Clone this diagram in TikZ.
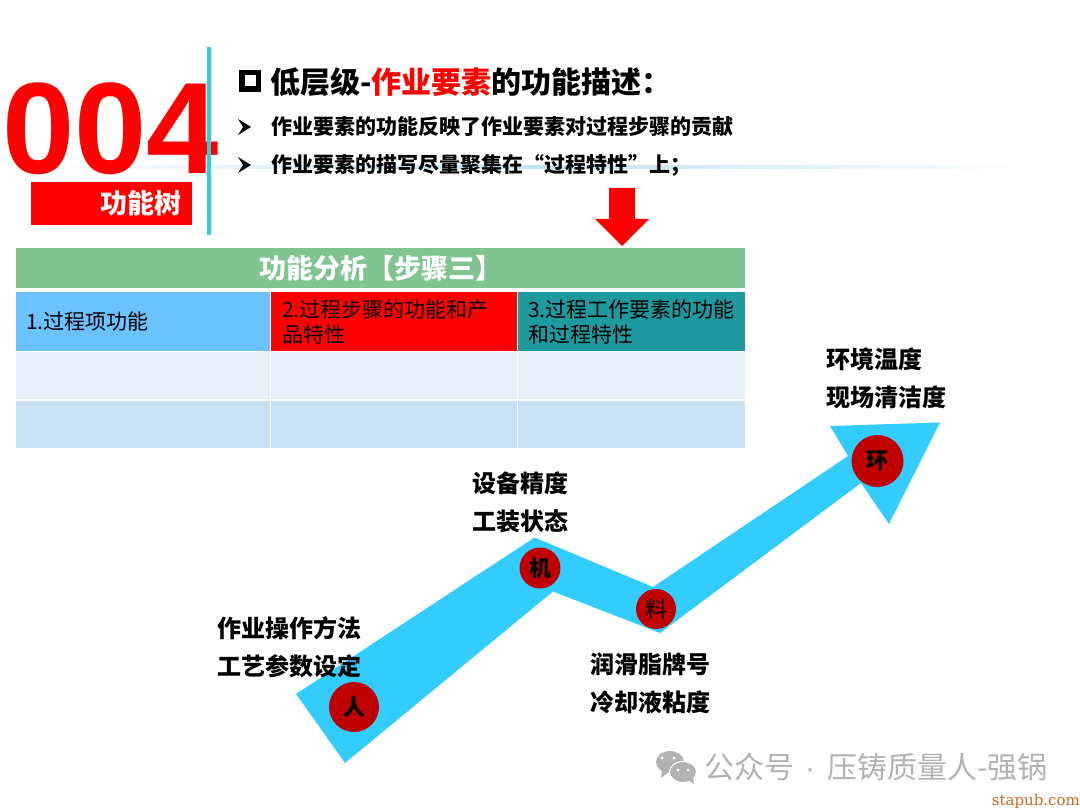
\documentclass[tikz,border=0pt]{standalone}
\usepackage{fontspec}
\setmainfont{Noto Sans CJK SC}
\newfontfamily\digitfont{Liberation Sans}
\newfontfamily\siteFont{DejaVu Serif}
\newcommand{\fsz}[2]{\fontsize{#1}{#2}\selectfont}
\definecolor{headgreen}{HTML}{7FC491}
\definecolor{cellblue}{HTML}{6AC2FF}
\definecolor{cellteal}{HTML}{1E9A9E}
\definecolor{rowa}{HTML}{E6F0FA}
\definecolor{rowb}{HTML}{CAE1F5}
\definecolor{pureRed}{HTML}{FF0000}
\definecolor{barcyan}{HTML}{2CCFDC}
\definecolor{flow}{HTML}{33CCFF}
\definecolor{dot}{HTML}{C00000}
\definecolor{fadeline}{HTML}{BFE3F2}
\definecolor{wm}{HTML}{B2B2B2}
\definecolor{siteorange}{HTML}{C8691E}
\tikzset{
  cell/.style={anchor=north west,inner ysep=0pt,outer sep=0pt,align=left,font=\fsz{21}{25}},
  lab/.style={anchor=west,inner sep=0pt,align=left,font=\fsz{24}{38}\bfseries},
  bul/.style={anchor=base west,inner sep=0pt,font=\fsz{21}{26}\bfseries},
  tickmark/.style={fill=black},
  dotn/.style={circle,fill=dot,inner sep=0pt,font=\fsz{22}{22}}
}
\begin{document}
\begin{tikzpicture}[x=1pt,y=-1pt]
\useasboundingbox (0,0) rectangle (1080,810);
% faint line
\fill[left color=white,right color=white,middle color=fadeline] (50,166) rectangle (1026,168.5);
% big number
\node[anchor=base west,inner sep=0pt,text=pureRed,font=\digitfont\fsz{130}{130}\bfseries] (num) at (2,174) {004};
\draw[barcyan,line width=3.5pt] (209,47) -- (209,235);
\node[anchor=north west,fill=pureRed,minimum width=161pt,minimum height=43pt,inner ysep=0pt,inner xsep=11pt,text width=139pt,align=right,text=white,font=\fsz{27}{30}\bfseries] (tree) at (31,182) {\raisebox{-1.5pt}{功能树}};
% heading
\draw[line width=5.5pt] (241.75,72.75) rectangle (258.25,89.25);
\node[anchor=base west,inner sep=0pt,font=\fsz{30}{34}\bfseries] (title) at (270,94) {低层级-\textcolor{pureRed}{作业要素}的功能描述：};
\fill[tickmark] (238,119) -- (251,127) -- (238,135) -- (243,127) -- cycle;
\node[bul] (b1) at (271,135) {作业要素的功能反映了作业要素对过程步骤的贡献};
\fill[tickmark] (238,157) -- (251,165) -- (238,173) -- (243,165) -- cycle;
\node[bul] (b2) at (271,173) {作业要素的描写尽量聚集在“过程特性”上；};
% down arrow
\fill[pureRed] (609,188) -- (635,188) -- (635,219) -- (649,219) -- (622,246) -- (595,219) -- (609,219) -- cycle;
% table
\node[anchor=north west,fill=headgreen,minimum width=729pt,minimum height=40pt,inner sep=0pt,text=white,font=\fsz{27}{30}\bfseries] (head) at (16,248) {\raisebox{-1pt}{功能分析【步骤三】}};
\node[cell,fill=cellblue,minimum width=254pt,minimum height=59pt,inner xsep=10pt,text width=234pt] (c11) at (16,292) {1.过程项功能};
\node[cell,fill=pureRed,minimum width=246pt,minimum height=59pt,inner xsep=11pt,text width=224pt] (c12) at (271,292) {2.过程步骤的功能和产\\品特性};
\node[cell,fill=cellteal,minimum width=227pt,minimum height=59pt,inner xsep=10pt,text width=207pt] (c13) at (518,292) {3.过程工作要素的功能\\和过程特性};
\foreach \n/\x/\w in {1/16/254,2/271/246,3/518/227}{
  \node[anchor=north west,fill=rowa,minimum width=\w pt,minimum height=47pt,inner sep=0pt] (r2\n) at (\x,352) {};
  \node[anchor=north west,fill=rowb,minimum width=\w pt,minimum height=47pt,inner sep=0pt] (r3\n) at (\x,401) {};
}
% flow arrow
\fill[flow] (296,694) -- (534.5,537.5) -- (653,587) -- (848,456) -- (830,426) -- (940,422.5) -- (889,524) -- (861,483) -- (660,633) -- (553,591.5) -- (345,763) -- cycle;
\node[dotn,minimum size=50pt,font=\fsz{22}{22}\bfseries] (ren) at (354,707) {人};
\node[dotn,minimum size=41pt,font=\fsz{22}{22}\bfseries] (ji) at (540,568) {机};
\node[dotn,minimum size=40pt] (liao) at (656,609) {料};
\node[dotn,minimum size=52pt,font=\fsz{22}{22}\bfseries] (huan) at (877.5,461) {环};
\node[lab] (l1) at (217,647) {作业操作方法\\工艺参数设定};
\node[lab] (l2) at (472,502) {设备精度\\工装状态};
\node[lab] (l3) at (590,683) {润滑脂牌号\\冷却液粘度};
\node[lab] (l4) at (826,378) {环境温度\\现场清洁度};
% watermark
\fill[wm] (670,762) ellipse (14pt and 11pt);
\fill[wm] (662,770) -- (661,778) -- (669,772) -- cycle;
\fill[white] (662,758) circle (1.7pt) (674,758) circle (1.7pt);
\fill[wm,draw=white,line width=1pt] (683,772) ellipse (13.5pt and 10.5pt);
\fill[wm] (688,780) -- (694,784) -- (693,777) -- cycle;
\fill[white] (678,770) circle (1.5pt) (688,770) circle (1.5pt);
\node[anchor=base west,inner sep=0pt,text=wm,font=\fsz{30}{32}] (mark) at (704,778) {公众号\hspace{11pt}{\digitfont·}\hspace{12pt}压铸质量人-强锅};
\node[anchor=base east,inner sep=0pt,text=siteorange,font=\siteFont\fsz{15}{16}] (site) at (1080,805) {stapub.com};
\end{tikzpicture}
\end{document}
